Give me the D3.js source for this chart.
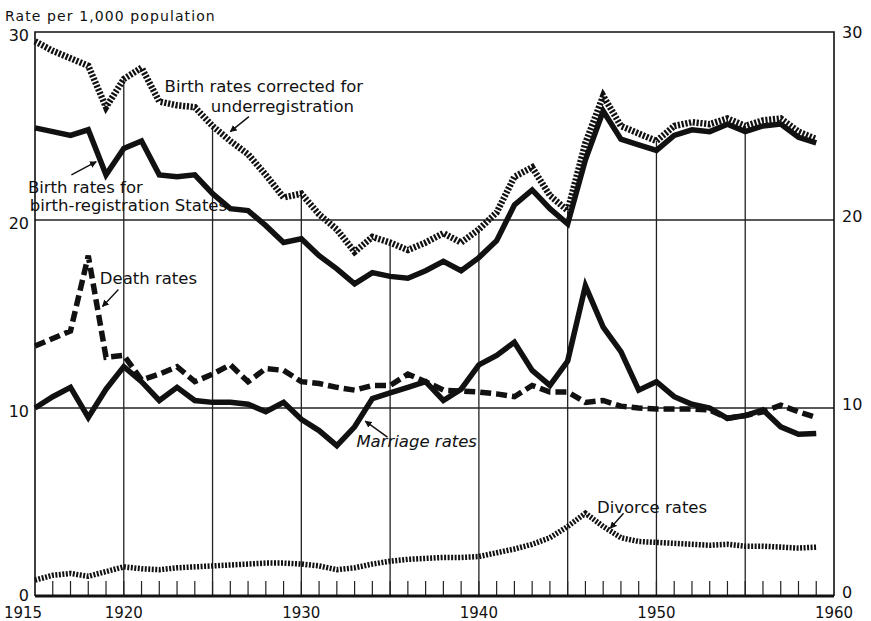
<!DOCTYPE html>
<html>
<head>
<meta charset="utf-8">
<script src="https://cdn.jsdelivr.net/npm/d3@7"></script>
<style>
  body { margin: 0; background: #fff; }
  text { font-family: "DejaVu Sans", sans-serif; fill: #111; }
</style>
</head>
<body>
<div id="chart"></div>
<script>
// Vital rates, United States 1915-1959
const years = [1915, 1916, 1917, 1918, 1919, 1920, 1921, 1922, 1923, 1924,
  1925, 1926, 1927, 1928, 1929, 1930, 1931, 1932, 1933, 1934,
  1935, 1936, 1937, 1938, 1939, 1940, 1941, 1942, 1943, 1944,
  1945, 1946, 1947, 1948, 1949, 1950, 1951, 1952, 1953, 1954,
  1955, 1956, 1957, 1958, 1959];

const birthCorrected = [29.5, 29.0, 28.6, 28.2, 26.0, 27.5, 28.1, 26.3, 26.1, 26.0,
  25.0, 24.2, 23.5, 22.4, 21.2, 21.4, 20.3, 19.5, 18.3, 19.1,
  18.8, 18.4, 18.8, 19.3, 18.8, 19.5, 20.4, 22.3, 22.8, 21.3,
  20.5, 24.1, 26.6, 25.0, 24.6, 24.2, 25.0, 25.2, 25.1, 25.4,
  25.0, 25.3, 25.4, 24.7, 24.3];

const birthRegistration = [24.9, 24.7, 24.5, 24.8, 22.4, 23.8, 24.2, 22.4, 22.3, 22.4,
  21.4, 20.6, 20.5, 19.7, 18.8, 19.0, 18.1, 17.4, 16.6, 17.2,
  17.0, 16.9, 17.3, 17.8, 17.3, 18.0, 18.9, 20.8, 21.6, 20.6,
  19.8, 23.2, 25.8, 24.3, 24.0, 23.7, 24.5, 24.8, 24.7, 25.1,
  24.7, 25.0, 25.1, 24.4, 24.1];

const deathRates = [13.3, 13.7, 14.1, 18.1, 12.7, 12.8, 11.5, 11.8, 12.2, 11.4,
  11.8, 12.3, 11.4, 12.1, 12.0, 11.4, 11.3, 11.1, 10.95, 11.2,
  11.2, 11.8, 11.4, 10.95, 10.9, 10.85, 10.75, 10.6, 11.2, 10.85,
  10.85, 10.3, 10.4, 10.1, 10.0, 9.95, 9.95, 9.95, 9.9, 9.45,
  9.6, 9.8, 10.15, 9.8, 9.5];

const marriageRates = [10.0, 10.6, 11.1, 9.5, 11.0, 12.2, 11.4, 10.4, 11.1, 10.4,
  10.3, 10.3, 10.2, 9.8, 10.3, 9.4, 8.8, 8.0, 9.0, 10.5,
  10.8, 11.1, 11.4, 10.4, 11.0, 12.3, 12.8, 13.5, 12.0, 11.2,
  12.5, 16.5, 14.3, 13.0, 10.95, 11.4, 10.6, 10.2, 10.0, 9.45,
  9.6, 9.9, 9.0, 8.6, 8.65];

const divorceRates = [0.85, 1.1, 1.2, 1.05, 1.3, 1.55, 1.45, 1.4, 1.5, 1.55,
  1.6, 1.65, 1.7, 1.75, 1.75, 1.7, 1.6, 1.4, 1.5, 1.7,
  1.85, 1.95, 2.0, 2.05, 2.05, 2.1, 2.3, 2.5, 2.75, 3.1,
  3.7, 4.4, 3.7, 3.1, 2.9, 2.85, 2.8, 2.75, 2.7, 2.75,
  2.65, 2.65, 2.6, 2.55, 2.6];

const yTicks = [0, 10, 20, 30];
const yearLabels = [1915, 1920, 1930, 1940, 1950, 1960];
const gridYears = [1920, 1925, 1930, 1935, 1940, 1945, 1950, 1955];

// Chart dimensions
const W = 871, H = 621;
const margin = { top: 32, right: 37, bottom: 25, left: 35 };

const svg = d3.select("#chart").append("svg")
    .attr("width", W)
    .attr("height", H);

const x = d3.scaleLinear()
    .domain([1915, 1960])
    .range([margin.left, W - margin.right]);

const y = d3.scaleLinear()
    .domain([0, 30])
    .range([H - margin.bottom, margin.top]);

// horizontal grid at 10 and 20
[10, 20].forEach(v => {
    svg.append("line")
        .attr("x1", x(1915)).attr("x2", x(1960))
        .attr("y1", y(v)).attr("y2", y(v))
        .attr("stroke", "#222").attr("stroke-width", 1.3);
});

// vertical grid lines run up to the birth curve
gridYears.forEach(yr => {
    const top = birthCorrected[years.indexOf(yr)];
    svg.append("line")
        .attr("x1", x(yr)).attr("x2", x(yr))
        .attr("y1", y(0)).attr("y2", y(top))
        .attr("stroke", "#222").attr("stroke-width", 1.3);
});

// yearly ticks along the bottom
years.slice(1).forEach(yr => {
    svg.append("line")
        .attr("x1", x(yr)).attr("x2", x(yr))
        .attr("y1", y(0)).attr("y2", y(0) - 15)
        .attr("stroke", "#222").attr("stroke-width", 1.2);
});

// frame
svg.append("path")
    .attr("d", `M${x(1915)},${y(0)}V${y(30)}H${x(1960)}V${y(0)}`)
    .attr("fill", "none")
    .attr("stroke", "#111")
    .attr("stroke-width", 1.6);

svg.append("line")
    .attr("x1", x(1915)).attr("x2", x(1960))
    .attr("y1", y(0)).attr("y2", y(0))
    .attr("stroke", "#111").attr("stroke-width", 3);

// series
const series = [
    { values: birthCorrected, width: 6.5, dash: "2.2,1.6" },
    { values: birthRegistration, width: 5.5, dash: null },
    { values: deathRates, width: 5.5, dash: "11,5" },
    { values: marriageRates, width: 5.5, dash: null },
    { values: divorceRates, width: 5.5, dash: "2,1.5" }
];

const line = d3.line()
    .x((d, i) => x(years[i]))
    .y(d => y(d));

series.forEach(s => {
    svg.append("path")
        .datum(s.values)
        .attr("d", line)
        .attr("fill", "none")
        .attr("stroke", "#111")
        .attr("stroke-width", s.width)
        .attr("stroke-linejoin", "miter")
        .attr("stroke-dasharray", s.dash);
});

// axis labels
yTicks.forEach(v => {
    svg.append("text")
        .attr("x", x(1915) - 6)
        .attr("y", y(v) + (v === 0 ? -1 : 3))
        .attr("dy", "0.36em")
        .attr("text-anchor", "end")
        .attr("font-size", "16px")
        .text(v);
    svg.append("text")
        .attr("x", x(1960) + 8)
        .attr("y", y(v) - (v === 30 ? 0 : 4))
        .attr("dy", "0.36em")
        .attr("font-size", "16px")
        .text(v);
});

yearLabels.forEach(yr => {
    svg.append("text")
        .attr("x", x(yr) - (yr === 1915 ? 12 : 0))
        .attr("y", H - 3)
        .attr("text-anchor", "middle")
        .attr("font-size", "15px")
        .text(yr);
});

svg.append("text")
    .attr("x", 5)
    .attr("y", 21)
    .attr("font-size", "14px")
    .attr("letter-spacing", "1.1px")
    .text("Rate per 1,000 population");

// annotations
const notes = [
    { text: "Birth rates corrected for", yr: 1922.3, v: 26.8 },
    { text: "underregistration", yr: 1924.9, v: 25.75 },
    { text: "Birth rates for", yr: 1914.6, v: 21.45 },
    { text: "birth-registration States", yr: 1914.7, v: 20.5 },
    { text: "Death rates", yr: 1918.65, v: 16.6 },
    { text: "Marriage rates", yr: 1933.1, v: 7.9, italic: true },
    { text: "Divorce rates", yr: 1946.65, v: 4.4 }
];

notes.forEach(n => {
    svg.append("text")
        .attr("x", x(n.yr))
        .attr("y", y(n.v))
        .attr("font-size", "16.5px")
        .attr("font-style", n.italic ? "italic" : "normal")
        .text(n.text);
});

svg.append("defs").append("marker")
    .attr("id", "head")
    .attr("viewBox", "0 0 10 10")
    .attr("refX", 9).attr("refY", 5)
    .attr("markerWidth", 7).attr("markerHeight", 7)
    .attr("markerUnits", "userSpaceOnUse")
    .attr("orient", "auto")
    .append("path")
    .attr("d", "M0,0L10,5L0,10z")
    .attr("fill", "#111");

const arrows = [
    { from: [1927.05, 25.5], to: [1926.0, 24.7] },
    { from: [1917.05, 22.4], to: [1918.45, 23.1] },
    { from: [1919.7, 16.3], to: [1918.8, 15.4] },
    { from: [1934.85, 8.45], to: [1933.6, 9.3] },
    { from: [1948.15, 4.4], to: [1947.4, 3.6] }
];

arrows.forEach(a => {
    svg.append("line")
        .attr("x1", x(a.from[0])).attr("y1", y(a.from[1]))
        .attr("x2", x(a.to[0])).attr("y2", y(a.to[1]))
        .attr("stroke", "#111")
        .attr("stroke-width", 1.4)
        .attr("marker-end", "url(#head)");
});
</script>
</body>
</html>
